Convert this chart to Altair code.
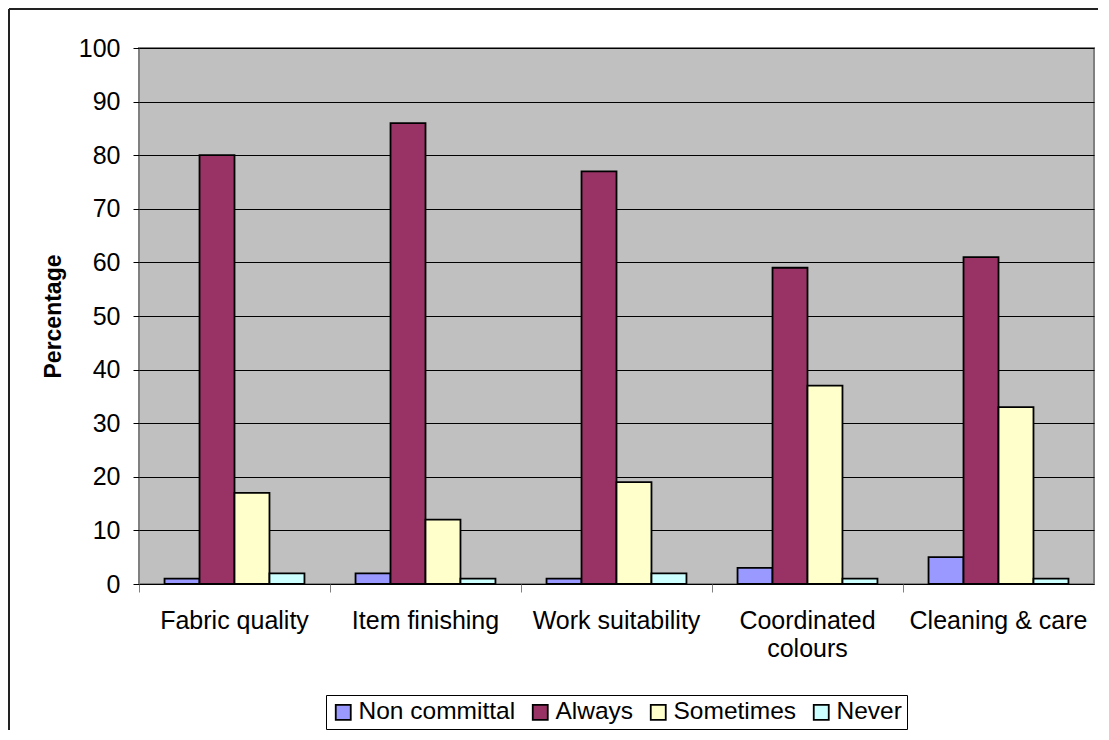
import altair as alt
import pandas as pd

categories = ["Fabric quality", "Item finishing", "Work suitability", "Coordinated colours", "Cleaning & care"]
series = ["Non committal", "Always", "Sometimes", "Never"]
non_committal = [1, 2, 1, 3, 5]
always = [80, 86, 77, 59, 61]
sometimes = [17, 12, 19, 37, 33]
never = [2, 1, 2, 1, 1]
colors = ["#9999FF", "#993366", "#FFFFCC", "#CCFFFF"]
y_ticks = list(range(0, 101, 10))

rows = []
for name, vals in zip(series, [non_committal, always, sometimes, never]):
    for c, v in zip(categories, vals):
        rows.append({"Category": c, "Series": name, "Value": v})
df = pd.DataFrame(rows)

FONT = "Liberation Sans"

bars = alt.Chart(df).mark_bar(stroke="black", strokeWidth=1.8).encode(
    x=alt.X("Category:N", sort=categories,
            scale=alt.Scale(paddingInner=0, paddingOuter=0),
            axis=alt.Axis(title=None, labelAngle=0, bandPosition=0,
                          tickColor="#808080", tickSize=8, domain=False,
                          labelFontSize=25, labelColor="black", labelFont=FONT,
                          labelPadding=16, labelLineHeight=28, labelBaseline="top",
                          labelExpr="datum.label == 'Coordinated colours' ? ['Coordinated', 'colours'] : datum.label")),
    xOffset=alt.XOffset("Series:N", sort=series,
                        scale=alt.Scale(paddingInner=0, paddingOuter=0.73)),
    y=alt.Y("Value:Q", scale=alt.Scale(domain=[0, 100], nice=False),
            axis=alt.Axis(title="Percentage", values=y_ticks, grid=True, gridColor="black",
                          gridWidth=1, gridOpacity=1, domain=False, tickColor="black",
                          tickSize=6, labelFontSize=25, labelColor="black", labelFont=FONT,
                          labelPadding=13, titleFontSize=23, titleFont=FONT,
                          titleFontWeight="bold", titleColor="black", titlePadding=13)),
    color=alt.Color("Series:N", sort=series,
                    scale=alt.Scale(domain=series, range=colors),
                    legend=alt.Legend(title=None, orient="none", legendX=187, legendY=647,
                                      direction="horizontal", symbolType="square",
                                      symbolSize=225, symbolStrokeColor="black",
                                      symbolStrokeWidth=1.8, labelFontSize=24.5,
                                      labelFont=FONT, labelColor="black",
                                      strokeColor="black", padding=5,
                                      columnPadding=12, labelOffset=3,
                                      fillColor="white")),
)

frame_df = pd.DataFrame({"k": [0]})
left_border = alt.Chart(frame_df).mark_rule(color="#222222", strokeWidth=2).encode(
    x=alt.value(-130), y=alt.value(-39), y2=alt.value(700))
top_border = alt.Chart(frame_df).mark_rule(color="#222222", strokeWidth=2).encode(
    x=alt.value(-130), x2=alt.value(1000), y=alt.value(-39))

chart = alt.layer(bars, left_border, top_border).properties(
    width=955, height=536,
    padding={"left": 131, "top": 40, "right": 4, "bottom": 146},
    autosize=alt.AutoSizeParams(type="none"),
    background="white",
).configure_view(
    fill="#C0C0C0", stroke="#808080", strokeWidth=2
)

chart.save("out.html", embed_options={"renderer": "svg", "actions": False})
